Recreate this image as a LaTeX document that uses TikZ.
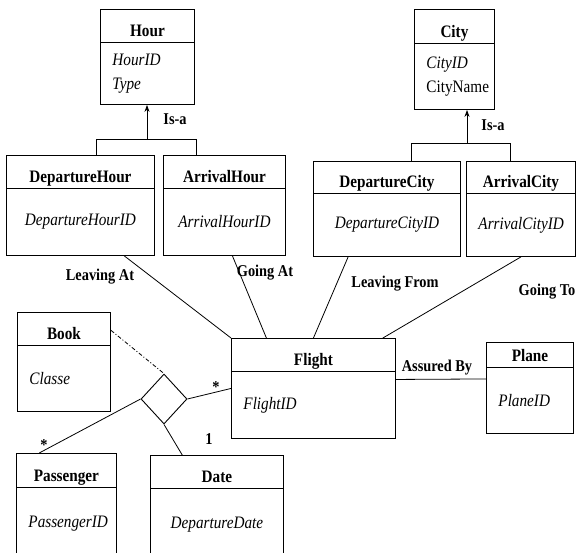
\documentclass[tikz,border=0pt]{standalone}
\usepackage{fontspec}
\setmainfont{Liberation Serif}[FakeStretch=0.87]
\usetikzlibrary{positioning,shapes.geometric,arrows.meta,calc}

% #1 name, #2 top left, #3 width, #4 height, #5 title height, #6 title, #7 align, #8 attributes
\newcommand{\umlclass}[8]{%
  \node[classbox, minimum width=#3pt, minimum height=#4pt, anchor=north west] (#1) at #2 {};
  \draw[classbox] ([yshift=-#5pt]#1.north west) -- ([yshift=-#5pt]#1.north east);
  \node[classtitle] (#1-t) at ([yshift=-#5pt+6pt]#1.north) {#6};
  \node[classbody, text width=#3pt-24pt, align=#7] (#1-b)
    at ($(#1.south)!0.5!([yshift=-#5pt]#1.north)$) {#8};
}

\begin{document}
\begin{tikzpicture}[x=1pt, y=-1pt]
    \tikzset{
    classbox/.style=
    {
        draw,
        line width=0.9pt,
        inner sep=0pt
    },
    classtitle/.style=
    {
        anchor=base,
        font=\fontsize{17.5}{20}\selectfont\bfseries
    },
    classbody/.style=
    {
        inner sep=0pt,
        font=\fontsize{17.5}{24}\selectfont
    },
    relation/.style=
    {
        draw,
        line width=0.9pt,
        diamond,
        inner sep=0pt,
        minimum width=46pt,
        minimum height=50pt
    },
    link/.style=
    {
        line width=0.8pt
    },
    isa/.style=
    {
        line width=0.8pt,
        -{Stealth[length=7pt,width=5pt]}
    },
    lbl/.style=
    {
        font=\fontsize{16.5}{18}\selectfont\bfseries
    }
}
  \useasboundingbox (0,0) rectangle (576,552);
  \clip (0,0) rectangle (576,552);

  \umlclass{Hour}{(100,9)}{94}{95}{33}{Hour}{left}{\textit{HourID}\\ \textit{Type}}
  \umlclass{City}{(414,9)}{80}{100}{34}{City}{left}{\textit{CityID}\\ CityName}
  \umlclass{DepHour}{(6,155)}{148}{100}{33}{DepartureHour}{center}{\textit{DepartureHourID}}
  \umlclass{ArrHour}{(163,155)}{122}{100}{33}{ArrivalHour}{center}{\textit{ArrivalHourID}}
  \umlclass{DepCity}{(313,161)}{147}{95}{32}{DepartureCity}{center}{\textit{DepartureCityID}}
  \umlclass{ArrCity}{(466,161)}{109}{95}{32}{ArrivalCity}{center}{\textit{ArrivalCityID}}
  \umlclass{Book}{(17,312)}{93}{99}{33}{Book}{left}{\textit{Classe}}
  \umlclass{Flight}{(231,338)}{164}{100}{33}{Flight}{left}{\textit{FlightID}}
  \umlclass{Plane}{(486,342)}{87}{91}{25}{Plane}{left}{\textit{PlaneID}}
  \umlclass{Passenger}{(16,453)}{100}{106}{34}{Passenger}{center}{\textit{PassengerID}}
  \umlclass{Date}{(150,455)}{133}{106}{33}{Date}{center}{\textit{DepartureDate}}

  \node[relation] (Booking) at (164,399) {};

  % generalisations
  \coordinate (HourL) at (96,139);
  \coordinate (HourR) at (196,139);
  \coordinate (HourBar) at (147,139);
  \draw[link] (DepHour.north -| HourL) -- (HourL) -- (HourR) -- (ArrHour.north -| HourR);
  \draw[isa] (HourBar) -- (Hour.south -| HourBar);
  \node[lbl] (IsaHour) at (175,119) {Is-a};

  \coordinate (CityL) at (411,143);
  \coordinate (CityR) at (510,143);
  \coordinate (CityBar) at (467,143);
  \draw[link] (DepCity.north -| CityL) -- (CityL) -- (CityR) -- (ArrCity.north -| CityR);
  \draw[isa] (CityBar) -- (City.south -| CityBar);
  \node[lbl] (IsaCity) at (493,125) {Is-a};

  % associations of Flight
  \draw[link] (DepHour.-49) -- (Flight.north west);
  \draw[link] (ArrHour.-81) -- (Flight.133);
  \draw[link] (DepCity.231) -- (Flight.north);
  \draw[link] (ArrCity.south) -- (Flight.36);
  \draw[link] ([yshift=9pt]Flight.east) -- ([yshift=9pt]Plane.west);

  \node[lbl] (LeavingAt) at (100,277) {Leaving At};
  \node[lbl] (GoingAt) at (265,273) {Going At};
  \node[lbl] (LeavingFrom) at (395,284) {Leaving From};
  \node[lbl] (GoingTo) at (547,292) {Going To};
  \node[lbl] (AssuredBy) at (437,368) {Assured By};

  % booking
  \draw[link, dash pattern=on 4pt off 2pt on 1pt off 2pt] (Book.34) -- (Booking.north);
  \draw[link] (Booking.west) -- (Passenger.117);
  \draw[link] (Booking.south) -- (Date.123);
  \draw[link] (Booking.east) -- (Flight.west);

  \node[lbl] (StarFlight) at (216,387) {*};
  \node[lbl] (StarPassenger) at (44,445) {*};
  \node[lbl] (OneDate) at (209,439) {1};

\end{tikzpicture}
\end{document}
